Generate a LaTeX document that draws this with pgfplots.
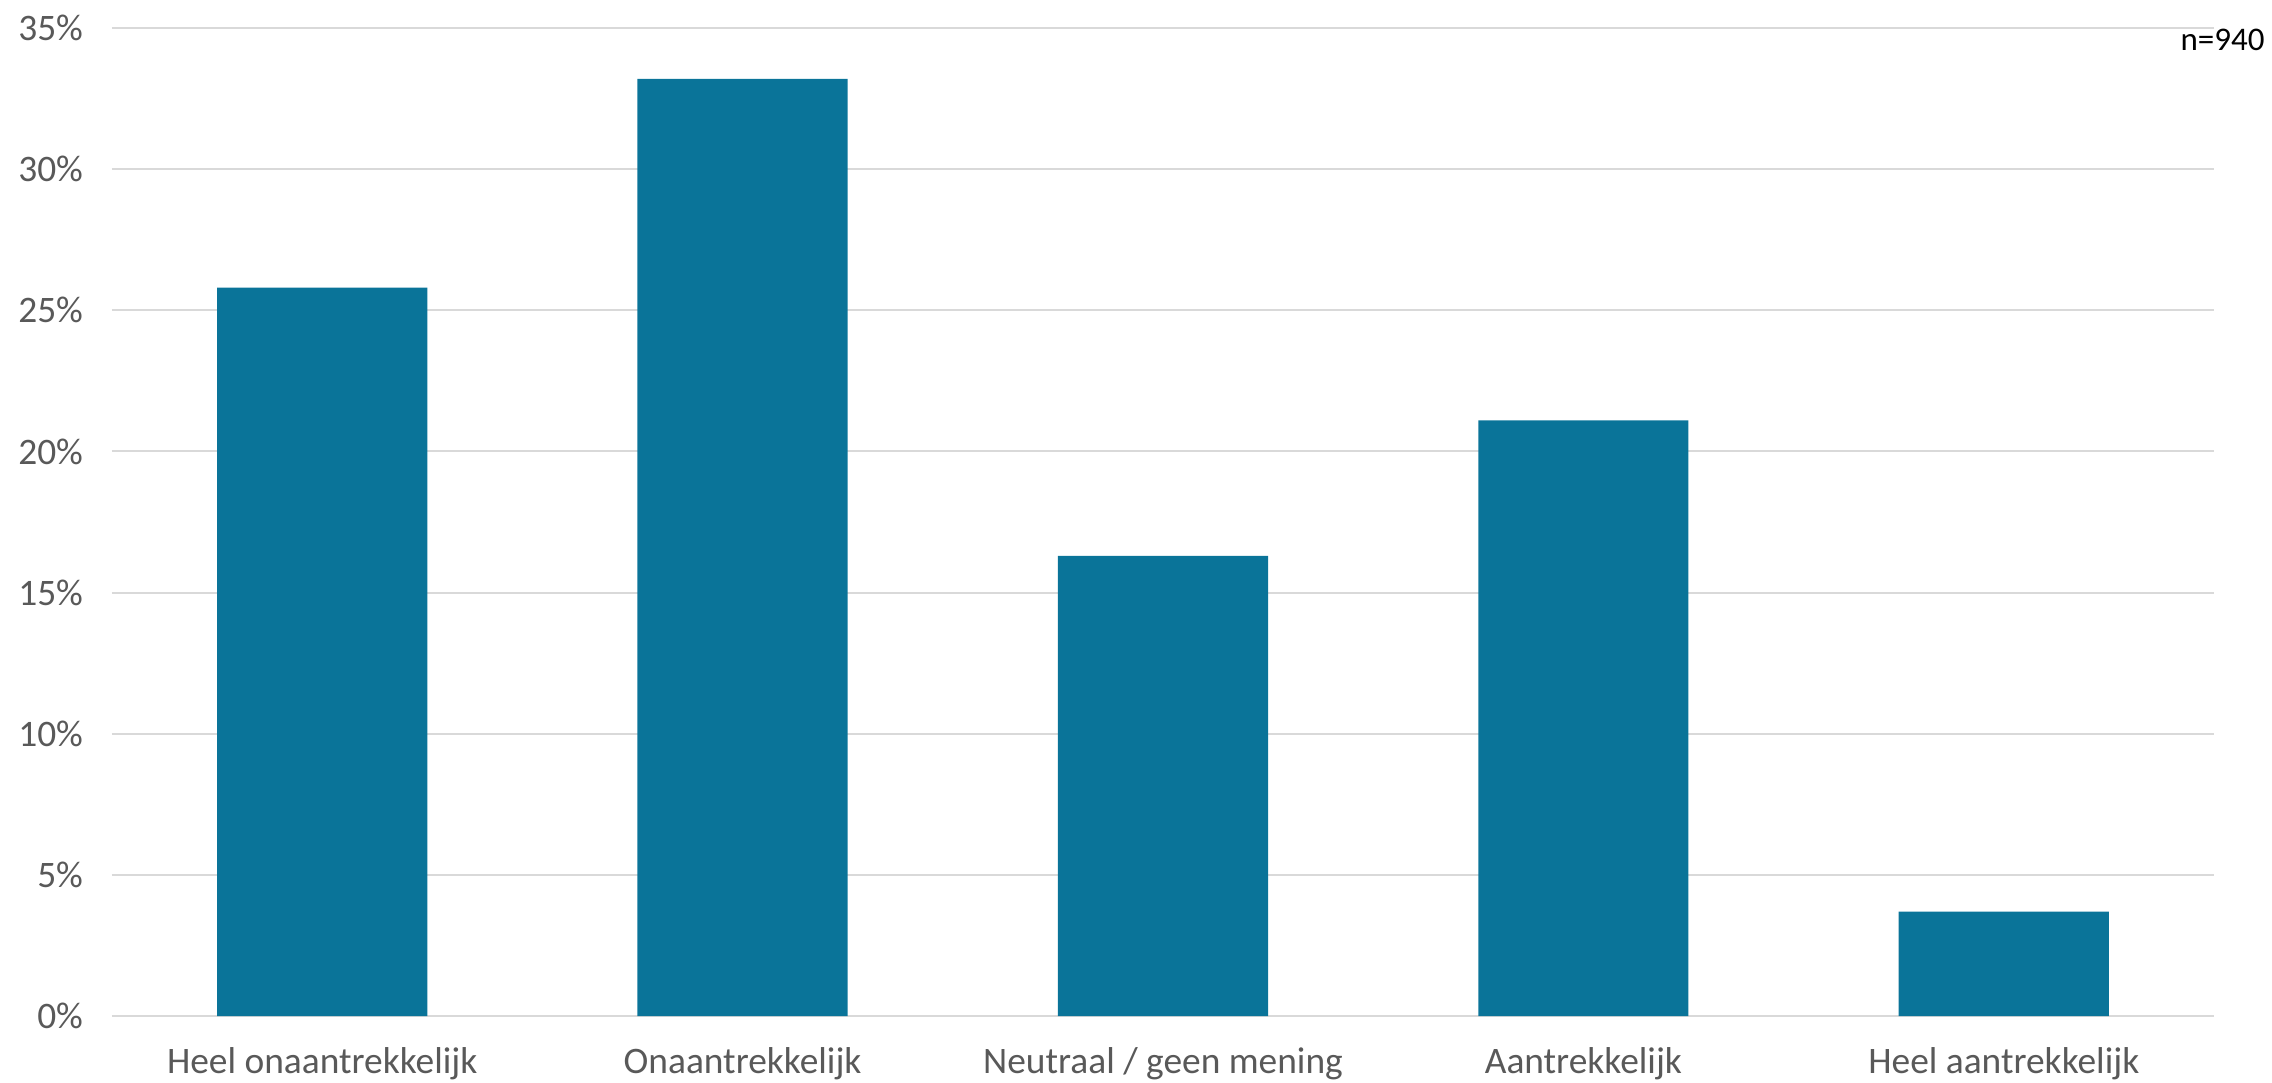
\documentclass[border=0pt]{standalone}
\usepackage{pgfplots}
\pgfplotsset{compat=1.18}
\usepackage{fontspec}
\setmainfont{Carlito}
\definecolor{barblue}{RGB}{10,116,153}
\definecolor{gridgray}{RGB}{217,217,217}
\definecolor{txtgray}{RGB}{89,89,89}
\begin{document}
\begin{tikzpicture}
\useasboundingbox (-56bp,-33.5bp) rectangle (1080bp,508bp);
\begin{axis}[
  at={(0,0)}, anchor=south west,
  scale only axis,
  width=1051bp, height=494bp,
  xmin=-0.5, xmax=4.5,
  ymin=0, ymax=35,
  xtick={0,1,2,3,4},
  xticklabels={Heel onaantrekkelijk,Onaantrekkelijk,Neutraal / geen mening,Aantrekkelijk,Heel aantrekkelijk},
  ytick={0,5,10,15,20,25,30,35},
  yticklabel={\pgfmathprintnumber{\tick}\%},
  /pgf/number format/assume math mode=true,
  ymajorgrids,
  grid style={gridgray, line width=1bp},
  axis line style={draw=none},
  major tick length=0pt,
  tick style={draw=none},
  ticklabel style={font=\fontsize{18.7bp}{21bp}\selectfont, text=txtgray},
  xticklabel style={yshift=-12bp},
  yticklabel style={xshift=-11bp},
  clip=false,
]
\addplot[ybar, bar width=0.5, fill=barblue, draw=none] coordinates {
  (0,25.8) (1,33.2) (2,16.3) (3,21.1) (4,3.7)
};
\node[anchor=east, inner sep=0pt, font=\fontsize{16.5bp}{18bp}\selectfont, text=black]
  at (rel axis cs:1,1) [xshift=25.5bp, yshift=-6bp] {n=940};
\end{axis}
\end{tikzpicture}
\end{document}
